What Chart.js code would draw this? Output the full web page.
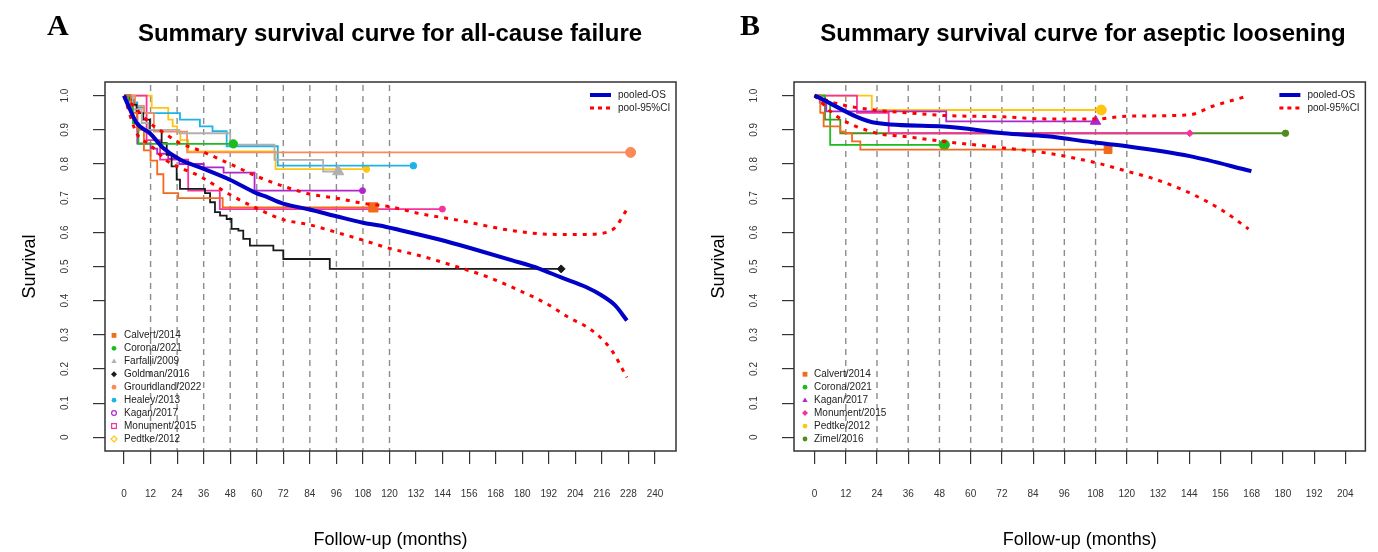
<!DOCTYPE html>
<html><head><meta charset="utf-8">
<script src="https://cdn.jsdelivr.net/npm/chart.js@4.4.1/dist/chart.umd.min.js"></script>
<style>
html,body{margin:0;padding:0;background:#fff;width:1378px;height:552px;overflow:hidden;position:relative;}
.panel{position:absolute;top:0;width:689px;height:552px;}
canvas{display:block;}
.lbl{position:absolute;font-family:"Liberation Serif","DejaVu Serif",serif;font-weight:bold;font-size:30px;line-height:1;color:#000;}
.ttl{position:absolute;font-family:"Liberation Sans",Arial,sans-serif;font-weight:bold;font-size:24px;white-space:nowrap;transform:translateX(-50%);line-height:1;color:#000;}
</style></head>
<body>
<div class="panel" style="left:0"><canvas id="cA" width="689" height="552"></canvas></div>
<div class="panel" style="left:689px"><canvas id="cB" width="689" height="552"></canvas></div>
<div class="lbl" style="left:47px;top:10px">A</div>
<div class="ttl" style="left:390px;top:21px">Summary survival curve for all-cause failure</div>
<div class="lbl" style="left:740px;top:10px">B</div>
<div class="ttl" style="left:1083px;top:21px">Summary survival curve for aseptic loosening</div>
<script>
// ---------- tick labels ----------
const monthTicksA = [0,12,24,36,48,60,72,84,96,108,120,132,144,156,168,180,192,204,216,228,240];
const monthTicksB = [0,12,24,36,48,60,72,84,96,108,120,132,144,156,168,180,192,204];
const survTicks = [0,0.1,0.2,0.3,0.4,0.5,0.6,0.7,0.8,0.9,1.0];
const dashMonths = [12,24,36,48,60,72,84,96,108,120];

// ---------- Panel A: all-cause failure  [month, survival] ----------
const pooledA = [[0,1],[2,.97],[5.7,.92],[11.7,.89],[17.7,.847],[25.3,.813],[34.3,.79],[47.8,.754],[59.8,.715],[64,.705],[71.9,.684],[83.9,.667],[96,.647],[108,.628],[115.5,.62],[124.5,.607],[142.5,.579],[156,.555],[175.5,.518],[187.6,.494],[197.6,.468],[208.8,.44],[216,.415],[222,.386],[227.3,.342]];
const upperA = [[0,1],[5.7,.96],[11.7,.92],[19.2,.886],[25,.862],[34,.84],[48,.80],[60,.764],[72,.735],[84,.712],[96,.70],[108,.685],[120,.675],[133.5,.655],[151.5,.635],[175.5,.605],[195,.594],[208.8,.594],[218,.60],[222,.614],[227.3,.667]];
const lowerA = [[0,1],[5.7,.89],[11.7,.857],[19.2,.81],[25,.79],[34,.765],[48,.71],[60,.67],[72,.637],[84,.622],[96,.60],[108,.577],[120,.553],[133.5,.532],[151.5,.497],[165,.468],[178.6,.43],[190.8,.392],[201,.351],[211.5,.313],[220.5,.254],[227.3,.175]];
const calvertA = [[0,1],[3,.95],[6,.90],[9,.84],[12,.81],[15,.77],[17.8,.715],[24.5,.70],[44.6,.673],[112.7,.673]];
const coronaA = [[0,1],[2,.97],[4,.92],[6.5,.859],[49.4,.859]];
const farfalliA = [[0,1],[4,.96],[8,.92],[11,.90],[25,.89],[48,.857],[68,.812],[90,.778],[96.8,.778]];
const goldmanA = [[0,1],[2.7,.988],[4.2,.974],[5.7,.949],[8.7,.93],[11.7,.90],[17,.861],[19.3,.827],[21.5,.793],[23.8,.754],[25.3,.727],[36.6,.715],[38.9,.688],[41.1,.659],[43.4,.649],[46.4,.639],[48.6,.61],[51.7,.605],[53.9,.581],[56.9,.561],[67.5,.547],[72,.522],[93,.493],[197.6,.493]];
const groundlandA = [[0,1],[5,.97],[9,.949],[13.5,.895],[28.5,.834],[229,.834]];
const healeyA = [[0,1],[3,.98],[6,.965],[9,.949],[25.3,.93],[34.3,.91],[40,.896],[46.4,.852],[69.5,.795],[130.8,.795]];
const kaganA = [[0,1],[3,.96],[6,.86],[12,.845],[15,.83],[20,.815],[25,.80],[36,.79],[45,.775],[59,.722],[107.8,.722]];
const monumentA = [[0,1],[10.2,.87],[16.3,.813],[29,.722],[43.3,.668],[143.9,.668]];
const pedtkeA = [[0,1],[12.5,.964],[20,.93],[22,.91],[24,.895],[25.5,.87],[29,.837],[68.5,.785],[109.6,.785]];

// ---------- Panel B: aseptic loosening ----------
const pooledB = [[0,1],[24,.92],[49.6,.91],[72.7,.89],[89.3,.881],[108.5,.862],[120,.852],[144.2,.823],[167.9,.779]];
const upperB = [[0,1],[8.5,.977],[24,.957],[35.5,.95],[49.6,.942],[72.7,.938],[89.3,.932],[108.5,.932],[120,.94],[144.2,.944],[153,.969],[167,1.0]];
const lowerB = [[0,1],[8.5,.94],[24,.89],[35.5,.88],[49.6,.866],[72.7,.847],[89.3,.832],[108.5,.803],[120,.779],[131.5,.754],[145.7,.71],[157.2,.662],[166.8,.61]];
const calvertB = [[0,1],[2.2,.95],[3.5,.91],[9.9,.895],[11.8,.89],[14.4,.866],[17.6,.842],[112.8,.842]];
const coronaB = [[0,1],[4,.98],[6,.856],[49.9,.856]];
const kaganB = [[0,1],[2,.98],[4.5,.954],[50.6,.925],[108,.925]];
const monumentB = [[0,1],[16.3,.95],[28.5,.89],[144.2,.89]];
const pedtkeB = [[0,1],[22,.958],[110.2,.958]];
const zimelB = [[0,1],[4,.93],[9.9,.89],[181,.89]];

const FONT = '"Liberation Sans", Arial, sans-serif';
Chart.defaults.font.family = FONT;

function pts(a){ return a.map(p => ({x:p[0], y:p[1]})); }
function study(label, arr, color, style, r){
  const n = arr.length;
  return {label, data: pts(arr), borderColor: color, backgroundColor: color, borderWidth: 1.8,
    stepped: true, fill: false,
    pointRadius: c => c.dataIndex === n-1 ? r : 0, pointHoverRadius: 0,
    pointStyle: style, pointBackgroundColor: color, pointBorderColor: color, pointBorderWidth: 1};
}
function smooth(label, arr, color, width, dash){
  return {label, data: pts(arr), borderColor: color, borderWidth: width, borderDash: dash || [],
    cubicInterpolationMode: 'monotone', pointRadius: 0, pointHoverRadius: 0, fill: false};
}

function drawMark(ctx, style, x, y, r, color, open){
  ctx.save();
  ctx.fillStyle = color; ctx.strokeStyle = color; ctx.lineWidth = 1.2;
  ctx.beginPath();
  if (style === 'rect') ctx.rect(x-r, y-r, 2*r, 2*r);
  else if (style === 'triangle') { ctx.moveTo(x, y-r*1.15); ctx.lineTo(x+r*1.1, y+r*0.75); ctx.lineTo(x-r*1.1, y+r*0.75); ctx.closePath(); }
  else if (style === 'diamond') { ctx.moveTo(x, y-r*1.25); ctx.lineTo(x+r*1.25, y); ctx.lineTo(x, y+r*1.25); ctx.lineTo(x-r*1.25, y); ctx.closePath(); }
  else ctx.arc(x, y, r, 0, Math.PI*2);
  if (open) ctx.stroke(); else ctx.fill();
  ctx.restore();
}

const framePlugin = {
  id: 'frame',
  beforeDatasetsDraw(chart, args, opts){
    const {ctx, chartArea: a, scales: {x}} = chart;
    ctx.save();
    ctx.strokeStyle = '#8c8c8c'; ctx.lineWidth = 1.4; ctx.setLineDash([6,5]);
    dashMonths.forEach(m => {
      const px = x.getPixelForValue(m);
      ctx.beginPath(); ctx.moveTo(px, a.top + 3); ctx.lineTo(px, a.bottom); ctx.stroke();
    });
    ctx.restore();
  },
  afterDraw(chart, args, opts){
    const {ctx, chartArea: a} = chart;
    ctx.save();
    ctx.strokeStyle = '#333'; ctx.lineWidth = 1.5;
    ctx.strokeRect(a.left, a.top, a.right - a.left, a.bottom - a.top);
    // pooled legend (top right)
    ctx.font = '10px ' + FONT; ctx.fillStyle = '#222'; ctx.textBaseline = 'middle'; ctx.textAlign = 'left';
    const lx = a.right - 86, y1 = a.top + 13, y2 = a.top + 26;
    ctx.strokeStyle = '#0000C8'; ctx.lineWidth = 4; ctx.setLineDash([]);
    ctx.beginPath(); ctx.moveTo(lx, y1); ctx.lineTo(lx + 21, y1); ctx.stroke();
    ctx.strokeStyle = '#FF0000'; ctx.lineWidth = 3; ctx.setLineDash([4,4]);
    ctx.beginPath(); ctx.moveTo(lx, y2); ctx.lineTo(lx + 21, y2); ctx.stroke();
    ctx.setLineDash([]);
    ctx.fillText('pooled-OS', a.right - 58, y1);
    ctx.fillText('pool-95%CI', a.right - 58, y2);
    // study legend (bottom left)
    const items = opts.items;
    const step = 12.95, y0 = a.bottom - 12 - (items.length - 1) * step;
    items.forEach((it, i) => {
      const yy = y0 + i * step;
      drawMark(ctx, it.s, a.left + opts.mx, yy, 2.4, it.c, it.o);
      ctx.fillStyle = '#222';
      ctx.fillText(it.t, a.left + opts.tx, yy);
    });
    ctx.restore();
  }
};

function makeChart(id, datasets, xmin, xmax, xticks, rightPad, legendItems, mx, tx){
  new Chart(document.getElementById(id), {
    type: 'line',
    data: {datasets},
    options: {
      responsive: false, animation: false, devicePixelRatio: 1,
      layout: {padding: {left: 0, right: rightPad, top: 82, bottom: 0}},
      plugins: {legend: {display: false}, tooltip: {enabled: false},
        frame: {items: legendItems, mx, tx}},
      scales: {
        x: {type: 'linear', min: xmin, max: xmax,
          afterBuildTicks: s => { s.ticks = xticks.map(v => ({value: v})); },
          afterFit: s => { s.height = 101; },
          ticks: {font: {size: 10}, color: '#333', padding: 24, maxRotation: 0, autoSkip: false},
          grid: {drawOnChartArea: false, drawTicks: true, tickLength: 13, color: '#333', tickColor: '#333', lineWidth: 1.2},
          border: {display: false},
          title: {display: true, text: 'Follow-up (months)', font: {size: 18}, color: '#000', padding: {top: 0, bottom: 1}}
        },
        y: {type: 'linear', min: -0.04, max: 1.04,
          afterBuildTicks: s => { s.ticks = survTicks.map(v => ({value: v})); },
          afterFit: s => { s.width = 105; },
          ticks: {font: {size: 10}, color: '#333', padding: 21, minRotation: 90, maxRotation: 90, crossAlign: 'center', autoSkip: false,
            callback: v => v === 0 ? '0' : Number(v).toFixed(1)},
          grid: {drawOnChartArea: false, drawTicks: true, tickLength: 12, color: '#333', tickColor: '#333', lineWidth: 1.2},
          border: {display: false},
          title: {display: true, text: 'Survival', font: {size: 18}, color: '#000', padding: {top: 19, bottom: 0}}
        }
      }
    },
    plugins: [framePlugin]
  });
}

const C = {calvert:'#F26A1B', corona:'#1DBB1D', farfalli:'#B0B0B0', goldman:'#1A1A1A', groundland:'#FA8A58',
  healey:'#1CB4E6', kagan:'#B026CC', monument:'#F7339B', pedtke:'#FFC510', zimel:'#4E8C1C'};

makeChart('cA', [
  smooth('pooled-OS', pooledA, '#0000C8', 4),
  smooth('upper', upperA, '#FF0000', 3, [4,6]),
  smooth('lower', lowerA, '#FF0000', 3, [4,6]),
  study('Calvert/2014', calvertA, C.calvert, 'rect', 6.5),
  study('Corona/2021', coronaA, C.corona, 'circle', 4.2),
  study('Farfalli/2009', farfalliA, C.farfalli, 'triangle', 6.5),
  study('Goldman/2016', goldmanA, C.goldman, 'rectRot', 4),
  study('Groundland/2022', groundlandA, C.groundland, 'circle', 5),
  study('Healey/2013', healeyA, C.healey, 'circle', 3.3),
  study('Kagan/2017', kaganA, C.kagan, 'circle', 3),
  study('Monument/2015', monumentA, C.monument, 'circle', 3),
  study('Pedtke/2012', pedtkeA, C.pedtke, 'circle', 3.2)
], -8.6, 249.5, monthTicksA, 13, [
  {t:'Calvert/2014', c:C.calvert, s:'rect'},
  {t:'Corona/2021', c:C.corona, s:'circle'},
  {t:'Farfalli/2009', c:C.farfalli, s:'triangle'},
  {t:'Goldman/2016', c:C.goldman, s:'diamond'},
  {t:'Groundland/2022', c:C.groundland, s:'circle'},
  {t:'Healey/2013', c:C.healey, s:'circle'},
  {t:'Kagan/2017', c:C.kagan, s:'circle', o:true},
  {t:'Monument/2015', c:C.monument, s:'rect', o:true},
  {t:'Pedtke/2012', c:C.pedtke, s:'diamond', o:true}
], 9, 19);

makeChart('cB', [
  smooth('pooled-OS', pooledB, '#0000C8', 4),
  smooth('upper', upperB, '#FF0000', 3, [4,6]),
  smooth('lower', lowerB, '#FF0000', 3, [4,6]),
  study('Calvert/2014', calvertB, C.calvert, 'rect', 5.5),
  study('Corona/2021', coronaB, C.corona, 'circle', 5),
  study('Kagan/2017', kaganB, C.kagan, 'triangle', 6),
  study('Monument/2015', monumentB, C.monument, 'rectRot', 3.5),
  study('Pedtke/2012', pedtkeB, C.pedtke, 'circle', 5),
  study('Zimel/2016', zimelB, C.zimel, 'circle', 3.2)
], -7.9, 211.7, monthTicksB, 9, [
  {t:'Calvert/2014', c:C.calvert, s:'rect'},
  {t:'Corona/2021', c:C.corona, s:'circle'},
  {t:'Kagan/2017', c:C.kagan, s:'triangle'},
  {t:'Monument/2015', c:C.monument, s:'diamond'},
  {t:'Pedtke/2012', c:C.pedtke, s:'circle'},
  {t:'Zimel/2016', c:C.zimel, s:'circle'}
], 11, 20);
</script>
</body></html>
